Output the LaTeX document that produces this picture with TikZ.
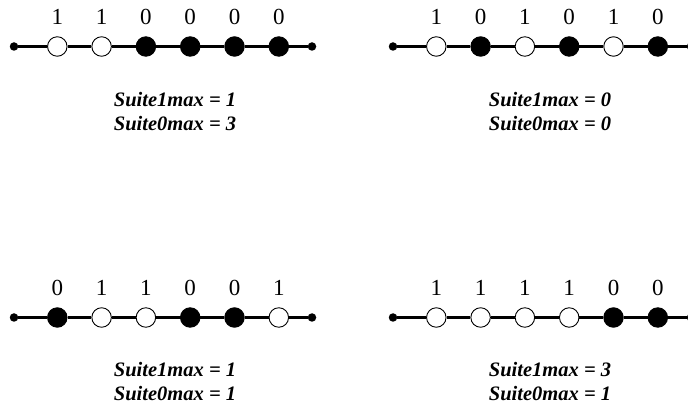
\documentclass[tikz,border=0pt]{standalone}
\usepackage{fontspec}
\setmainfont{Liberation Serif}
\begin{document}
\begin{tikzpicture}[x=1pt,y=-1pt,
  endpt/.style={circle,fill=black,inner sep=0pt,minimum size=8.5pt},
  one/.style={circle,draw=black,fill=white,line width=0.9pt,inner sep=0pt,minimum size=19.5pt},
  zero/.style={circle,draw=black,fill=black,line width=0.9pt,inner sep=0pt,minimum size=19.5pt},
  digit/.style={font=\fontsize{23}{23}\selectfont,inner sep=0pt},
  caption/.style={font=\fontsize{20.5}{24}\selectfont\bfseries\itshape,align=center,inner sep=0pt},
  wire/.style={line width=2.2pt}]
\useasboundingbox (0,0) rectangle (688,411);
\foreach \row/\ox/\oy/\bits in {A/0/0/{1,1,0,0,0,0}, B/379/0/{1,0,1,0,1,0}, C/0/271/{0,1,1,0,0,1}, D/379/271/{1,1,1,1,0,0}}{
  \node[endpt] (\row e0) at (14+\ox,46.5+\oy) {};
  \node[endpt] (\row e7) at (312+\ox,46.5+\oy) {};
  \foreach \b [count=\i] in \bits {
    \ifnum\b=1
      \node[one] (\row c\i) at (13+44.3*\i+\ox,46.5+\oy) {};
    \else
      \node[zero] (\row c\i) at (13+44.3*\i+\ox,46.5+\oy) {};
    \fi
    \node[digit] (\row d\i) at (13+44.3*\i+\ox,17+\oy) {\b};
  }
  \draw[wire] (\row e0) -- (\row c1) -- (\row c2) -- (\row c3) -- (\row c4) -- (\row c5) -- (\row c6) -- (\row e7);
}
\node[caption] (capA) at (175,112) {Suite1max = 1\\Suite0max = 3};
\node[caption] (capB) at (550,112) {Suite1max = 0\\Suite0max = 0};
\node[caption] (capC) at (175,382) {Suite1max = 1\\Suite0max = 1};
\node[caption] (capD) at (550,382) {Suite1max = 3\\Suite0max = 1};
\end{tikzpicture}
\end{document}
